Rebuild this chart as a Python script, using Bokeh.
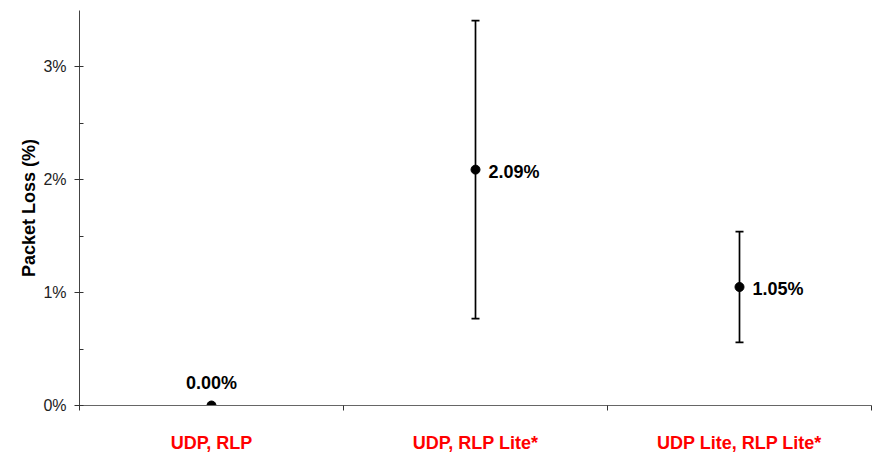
from bokeh.plotting import figure
from bokeh.models import ColumnDataSource, Whisker, TeeHead, FixedTicker, CDSView, IndexFilter, Range1d
from bokeh.core.properties import value
from bokeh.embed import file_html
from bokeh.resources import INLINE

categories = ["UDP, RLP", "UDP, RLP Lite*", "UDP Lite, RLP Lite*"]
loss = [0.00, 2.09, 1.05]
loss_lower = [0.00, 0.77, 0.56]
loss_upper = [0.00, 3.41, 1.54]
y_ticks = [0, 1, 2, 3]
y_tick_labels = ["0%", "1%", "2%", "3%"]

FONT = "'Liberation Sans', Arial, sans-serif"

xs = [i + 0.5 for i in range(len(categories))]
src = ColumnDataSource(dict(
    x=xs, y=loss, lower=loss_lower, upper=loss_upper,
    label=["%.2f%%" % v for v in loss],
))

p = figure(width=878, height=455, output_backend="svg", toolbar_location=None,
           x_range=Range1d(0, len(categories)), y_range=Range1d(0, 3.5),
           min_border_left=79, min_border_right=7, min_border_top=10, min_border_bottom=49)
p.outline_line_color = None
p.grid.visible = False
p.background_fill_color = "white"
p.border_fill_color = "white"

# error bars
wh = Whisker(source=src, base="x", lower="lower", upper="upper", dimension="height",
             line_color="black", line_width=1.7,
             upper_head=TeeHead(size=8, line_color="black", line_width=1.7),
             lower_head=TeeHead(size=8, line_color="black", line_width=1.7))
p.add_layout(wh)

p.scatter("x", "y", source=src, size=9, color="black")

# data labels
v_above = CDSView(filter=IndexFilter([0]))
v_right = CDSView(filter=IndexFilter([1, 2]))
p.text("x", "y", text="label", source=src, view=v_above, text_align="center",
       text_baseline="alphabetic", y_offset=-23, text_font=value(FONT),
       text_font_style="bold", text_font_size="18px", text_color="black")
p.text("x", "y", text="label", source=src, view=v_right, text_align="left",
       text_baseline="middle", x_offset=13, y_offset=2, text_font=value(FONT),
       text_font_style="bold", text_font_size="18px", text_color="black")

# x axis
xa = p.xaxis[0]
xa.ticker = FixedTicker(ticks=xs, minor_ticks=list(range(len(categories) + 1)))
xa.major_label_overrides = {x: c for x, c in zip(xs, categories)}
xa.major_tick_out = 0
xa.major_tick_in = 0
xa.minor_tick_out = 5
xa.minor_tick_in = 0
xa.minor_tick_line_color = "#333"
xa.axis_line_color = "#666"
xa.major_label_standoff = 22
xa.major_label_text_color = "#FF0000"
xa.major_label_text_font = FONT
xa.major_label_text_font_style = "bold"
xa.major_label_text_font_size = "18px"

# y axis
ya = p.yaxis[0]
ya.ticker = FixedTicker(ticks=y_ticks, minor_ticks=[0.5, 1.5, 2.5])
ya.major_label_overrides = {t: l for t, l in zip(y_ticks, y_tick_labels)}
ya.major_tick_in = 4
ya.major_tick_out = 5
ya.minor_tick_in = 4
ya.minor_tick_out = 0
ya.major_tick_line_color = "#333"
ya.minor_tick_line_color = "#333"
ya.axis_line_color = "#444"
ya.major_label_standoff = 8
ya.major_label_text_font = FONT
ya.major_label_text_font_size = "16px"
ya.major_label_text_color = "#222"
ya.axis_label = "Packet Loss (%)"
ya.axis_label_text_font = FONT
ya.axis_label_text_font_style = "bold"
ya.axis_label_text_font_size = "18px"
ya.axis_label_text_color = "black"
ya.axis_label_standoff = 1

open("out.html", "w").write(file_html(p, INLINE))
